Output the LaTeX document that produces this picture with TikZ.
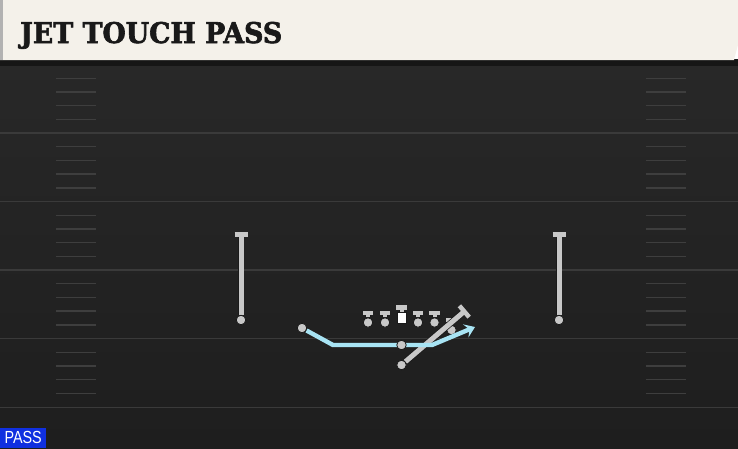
\documentclass[tikz,border=0pt]{standalone}
\usepackage{fontspec}
\usetikzlibrary{arrows.meta}
\newfontfamily\titlefont[FakeStretch=0.94, FakeBold=2.2]{DejaVu Serif}
\newfontfamily\tagfont[FakeStretch=0.82]{Liberation Sans}
\definecolor{fieldtop}{HTML}{282828}
\definecolor{fieldbot}{HTML}{1E1E1E}
\definecolor{yardline}{HTML}{3A3A3A}
\definecolor{hashcol}{HTML}{3E3E3E}
\definecolor{headbg}{HTML}{F4F1EA}
\definecolor{headshadow}{HTML}{161616}
\definecolor{plgray}{HTML}{C8C8C8}
\definecolor{plout}{HTML}{1A1A1A}
\definecolor{routeblue}{HTML}{A8E4F4}
\definecolor{tagblue}{HTML}{1030E0}
\tikzset{
  yard/.style={draw=yardline, line width=1.6pt},
  hashmark/.style={draw=hashcol, line width=1.4pt},
  pdot/.style={circle, fill=plgray, draw=plout, line width=0.8pt, minimum size=9.5pt, inner sep=0pt},
  centerbox/.style={rectangle, fill=white, draw=plout, line width=0.8pt, minimum width=9pt, minimum height=10.5pt, inner sep=0pt},
  stemline/.style={draw=plgray, line width=#1, preaction={draw=plout, line width=#1+1.4pt}},
  tbar/.style={-{Bar[width=#1, line width=4.5pt]}},
  route/.style={draw=routeblue, line width=4.4pt, line join=round},
}
\begin{document}
\begin{tikzpicture}[x=1pt,y=-1pt]
\useasboundingbox (0,0) rectangle (738,448);
% field
\shade[top color=fieldtop, bottom color=fieldbot] (0,60) rectangle (738,448);
% yard lines
\foreach \yy in {133,201.5,270,338.5,407.5}
  \draw[yard] (0,\yy) -- (738,\yy);
% hash marks
\foreach \base in {64.5,133,201.5,270,338.5}{
  \foreach \k in {1,2,3,4}{
    \draw[hashmark] (56,{\base+13.7*\k}) -- (96,{\base+13.7*\k});
    \draw[hashmark] (646,{\base+13.7*\k}) -- (686,{\base+13.7*\k});
  }
}
% header
\fill[headshadow] (0,59) rectangle (738,66);
\fill[headbg] (0,0) -- (738,0) -- (738,45) -- (734,60) -- (0,60) -- cycle;
\fill[gray!60] (0,0) rectangle (3,60);
\node[anchor=base west, inner sep=0pt, text=black!90] (title) at (20,43)
  {\titlefont\bfseries\fontsize{28.5}{28.5}\selectfont JET TOUCH PASS};
% PASS tag
\node[fill=tagblue, text=white, anchor=south west, inner sep=0pt, minimum width=46pt, minimum height=20pt] (tag) at (0,448)
  {\tagfont\fontsize{17.5}{17.5}\selectfont PASS};
% receivers
\node[pdot] (wrl) at (241,320) {};
\coordinate (wrlt) at (241,232);
\draw[stemline=5pt, tbar=13pt] (wrl) -- (wrlt);
\node[pdot] at (wrl) {};
\node[pdot] (wrr) at (559,320) {};
\coordinate (wrrt) at (559,232);
\draw[stemline=5pt, tbar=13pt] (wrr) -- (wrrt);
\node[pdot] at (wrr) {};
% linemen
\foreach \nm/\xx in {lt/368,lg/385,rg/418,rt/434.5}{
  \node[pdot] (\nm) at (\xx,322.5) {};
  \coordinate (\nm t) at (\xx,310.5);
  \draw[stemline=4pt, tbar=10.5pt] (\nm) -- (\nm t);
  \node[pdot] at (\nm) {};
}
% center
\node[centerbox] (c) at (401.5,318) {};
\coordinate (ct) at (401.5,305);
\draw[stemline=4pt, tbar=10.5pt] (c) -- (ct);
\node[centerbox] at (c) {};
% tight end
\node[pdot] (te) at (451.5,330) {};
\coordinate (tet) at (451.5,317.5);
\draw[stemline=4pt, tbar=10.5pt] (te) -- (tet);
\node[pdot] at (te) {};
% running back block
\node[pdot] (rb) at (401.5,365) {};
\coordinate (rbt) at (466,310);
\draw[stemline=5pt, tbar=15pt] (rb) -- (rbt);
\node[pdot] at (rb) {};
% jet motion route
\node[pdot] (jet) at (302,328) {};
\coordinate (j1) at (333,345);
\coordinate (j2) at (432,345);
\coordinate (jend) at (475,327);
\draw[route, -{Stealth[length=10pt, width=14pt, inset=4pt]}] (jet) -- (j1) -- (j2) -- (jend);
\node[pdot] at (jet) {};
% quarterback
\node[pdot] (qb) at (401.5,345) {};
\end{tikzpicture}
\end{document}
